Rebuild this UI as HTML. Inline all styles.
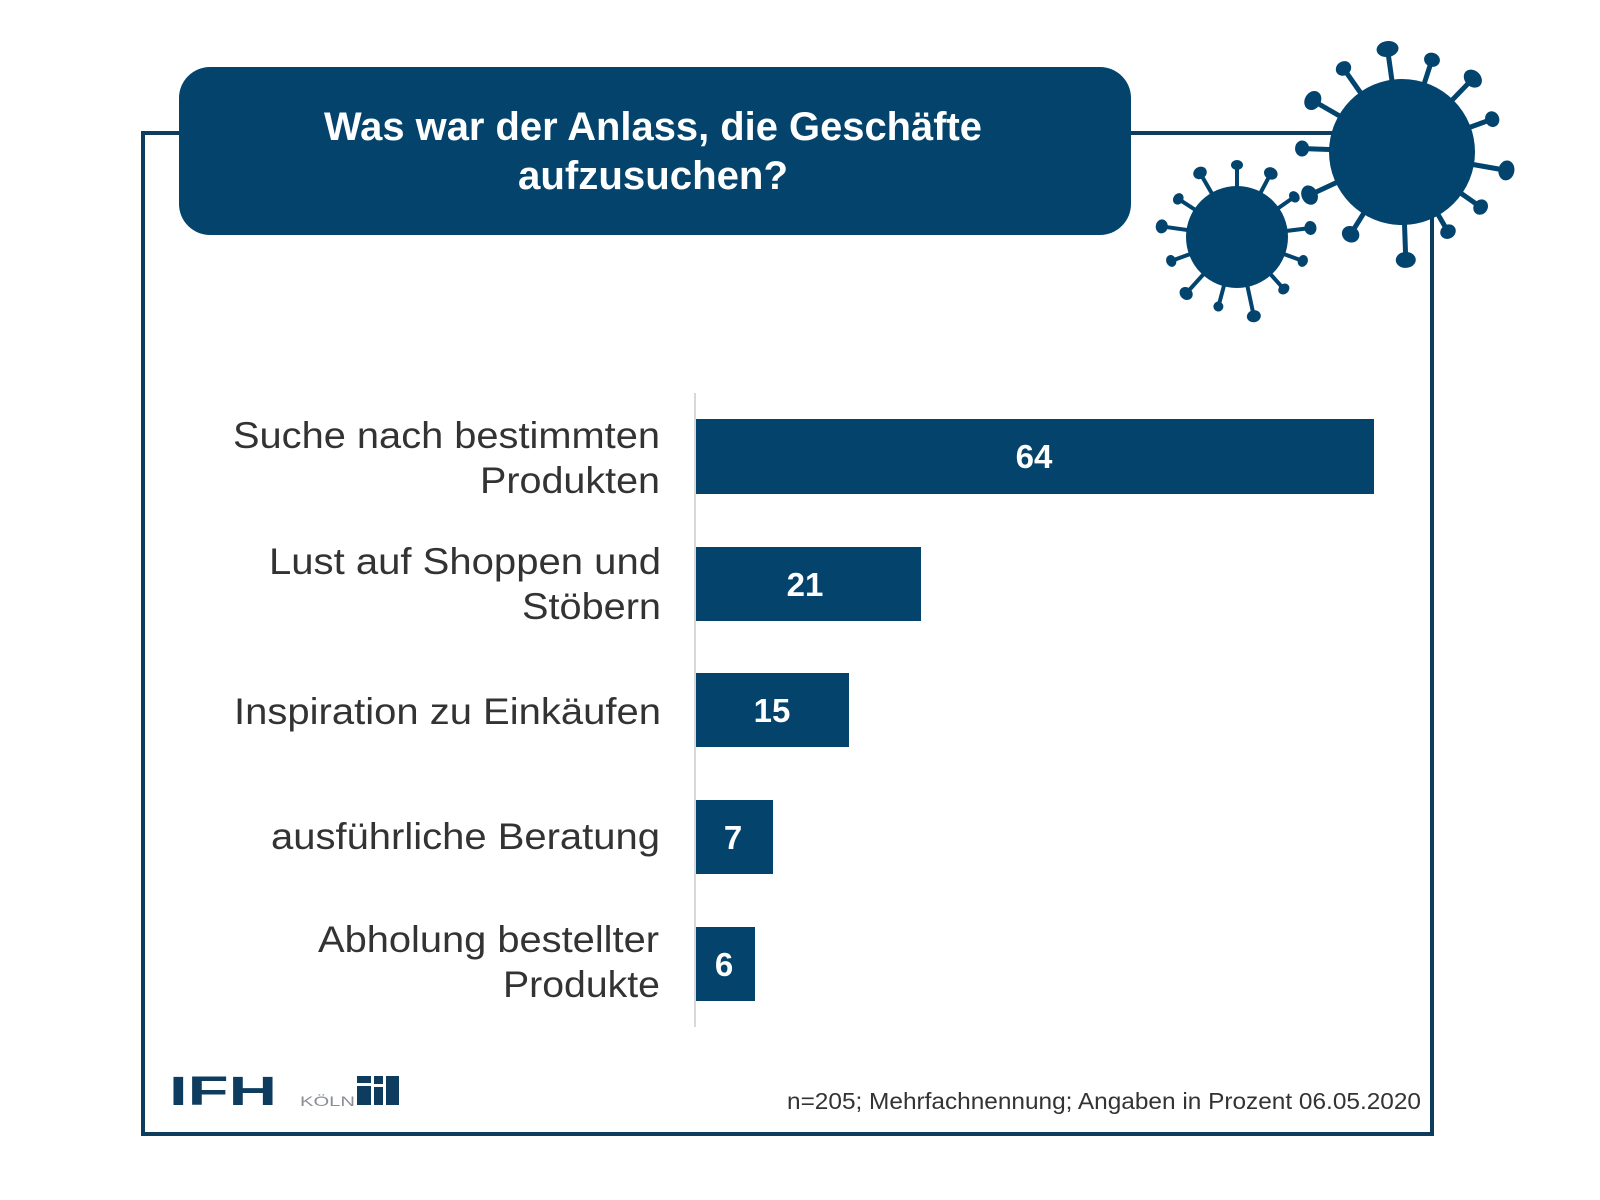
<!DOCTYPE html>
<html><head><meta charset="utf-8"><style>html,body{margin:0;padding:0;background:#fff}svg{display:block}</style></head>
<body>
<svg width="1600" height="1200" viewBox="0 0 1600 1200" xmlns="http://www.w3.org/2000/svg">
<rect width="1600" height="1200" fill="#fff"/>
<!-- frame -->
<rect x="143" y="133" width="1289" height="1001" fill="none" stroke="#0d3c5e" stroke-width="4"/>
<!-- viruses -->
<g fill="#03446e" stroke="#03446e">
 <g transform="translate(1402,152)">
  <circle r="73" stroke="none"/>
  <g stroke-width="5">
   <g transform="rotate(-8)"><line y2="-100"/><ellipse cy="-104" rx="11" ry="8" stroke="none"/></g>
   <g transform="rotate(18)"><line y2="-95"/><ellipse cy="-97" rx="8" ry="7" stroke="none"/></g>
   <g transform="rotate(44)"><line y2="-100"/><ellipse cy="-102" rx="10" ry="8" stroke="none"/></g>
   <g transform="rotate(70)"><line y2="-95"/><ellipse cy="-96" rx="8" ry="7" stroke="none"/></g>
   <g transform="rotate(100)"><line y2="-103"/><ellipse cy="-106" rx="10" ry="8" stroke="none"/></g>
   <g transform="rotate(125)"><line y2="-93"/><ellipse cy="-96" rx="8" ry="7" stroke="none"/></g>
   <g transform="rotate(150)"><line y2="-90"/><ellipse cy="-92" rx="8" ry="7" stroke="none"/></g>
   <g transform="rotate(178)"><line y2="-105"/><ellipse cy="-108" rx="10" ry="8" stroke="none"/></g>
   <g transform="rotate(212)"><line y2="-95"/><ellipse cy="-97" rx="9" ry="8" stroke="none"/></g>
   <g transform="rotate(245)"><line y2="-100"/><ellipse cy="-102" rx="10" ry="8" stroke="none"/></g>
   <g transform="rotate(272)"><line y2="-98"/><ellipse cy="-100" rx="8" ry="7" stroke="none"/></g>
   <g transform="rotate(300)"><line y2="-100"/><ellipse cy="-103" rx="10" ry="8" stroke="none"/></g>
   <g transform="rotate(325)"><line y2="-100"/><ellipse cy="-102" rx="8" ry="7" stroke="none"/></g>
  </g>
 </g>
 <g transform="translate(1237,237)">
  <circle r="51" stroke="none"/>
  <g stroke-width="4">
   <g transform="rotate(0)"><line y2="-70"/><ellipse cy="-72" rx="6" ry="5" stroke="none"/></g>
   <g transform="rotate(28)"><line y2="-70"/><ellipse cy="-72" rx="7" ry="6" stroke="none"/></g>
   <g transform="rotate(55)"><line y2="-68"/><ellipse cy="-70" rx="6" ry="5" stroke="none"/></g>
   <g transform="rotate(83)"><line y2="-72"/><ellipse cy="-74" rx="7" ry="6" stroke="none"/></g>
   <g transform="rotate(110)"><line y2="-68"/><ellipse cy="-70" rx="6" ry="5" stroke="none"/></g>
   <g transform="rotate(138)"><line y2="-68"/><ellipse cy="-70" rx="6" ry="5" stroke="none"/></g>
   <g transform="rotate(168)"><line y2="-78"/><ellipse cy="-81" rx="7" ry="6" stroke="none"/></g>
   <g transform="rotate(195)"><line y2="-70"/><ellipse cy="-72" rx="5" ry="5" stroke="none"/></g>
   <g transform="rotate(222)"><line y2="-74"/><ellipse cy="-76" rx="7" ry="6" stroke="none"/></g>
   <g transform="rotate(250)"><line y2="-68"/><ellipse cy="-70" rx="6" ry="5" stroke="none"/></g>
   <g transform="rotate(278)"><line y2="-74"/><ellipse cy="-76" rx="7" ry="6" stroke="none"/></g>
   <g transform="rotate(303)"><line y2="-68"/><ellipse cy="-70" rx="6" ry="5" stroke="none"/></g>
   <g transform="rotate(330)"><line y2="-72"/><ellipse cy="-74" rx="7" ry="6" stroke="none"/></g>
  </g>
 </g>
</g>
<!-- header -->
<rect x="179" y="67" width="952" height="168" rx="31" fill="#03436c"/>
<g font-family="Liberation Sans, Arial, sans-serif" font-weight="bold" fill="#fff" text-anchor="middle" font-size="40">
 <text x="653" y="140" textLength="658" lengthAdjust="spacingAndGlyphs">Was war der Anlass, die Geschäfte</text>
 <text x="653" y="189" textLength="270" lengthAdjust="spacingAndGlyphs">aufzusuchen?</text>
</g>
<!-- axis -->
<line x1="695" y1="393" x2="695" y2="1027" stroke="#d8d8d8" stroke-width="2"/>
<!-- bars -->
<g fill="#03436c">
 <rect x="696" y="419" width="678" height="75"/>
 <rect x="696" y="547" width="225" height="74"/>
 <rect x="696" y="673" width="153" height="74"/>
 <rect x="696" y="800" width="77" height="74"/>
 <rect x="696" y="927" width="59" height="74"/>
</g>
<g font-family="Liberation Sans, Arial, sans-serif" font-weight="bold" fill="#fff" text-anchor="middle" font-size="33">
 <text x="1034" y="468">64</text>
 <text x="805" y="596">21</text>
 <text x="772" y="722">15</text>
 <text x="733" y="849">7</text>
 <text x="724" y="976">6</text>
</g>
<g font-family="Liberation Sans, Arial, sans-serif" fill="#333" text-anchor="end" font-size="37">
 <text x="660" y="448" textLength="427" lengthAdjust="spacingAndGlyphs">Suche nach bestimmten</text>
 <text x="660" y="493" textLength="180" lengthAdjust="spacingAndGlyphs">Produkten</text>
 <text x="661" y="574" textLength="392" lengthAdjust="spacingAndGlyphs">Lust auf Shoppen und</text>
 <text x="661" y="619" textLength="139" lengthAdjust="spacingAndGlyphs">Stöbern</text>
 <text x="661" y="724" textLength="427" lengthAdjust="spacingAndGlyphs">Inspiration zu Einkäufen</text>
 <text x="660" y="849" textLength="389" lengthAdjust="spacingAndGlyphs">ausführliche Beratung</text>
 <text x="659" y="952" textLength="341" lengthAdjust="spacingAndGlyphs">Abholung bestellter</text>
 <text x="660" y="997" textLength="157" lengthAdjust="spacingAndGlyphs">Produkte</text>
</g>
<!-- footer -->
<text x="169" y="1105" font-family="Liberation Sans, Arial, sans-serif" font-weight="bold" font-size="41" fill="#0d3c5e" textLength="108" lengthAdjust="spacingAndGlyphs">IFH</text>
<text x="300" y="1106" font-family="Liberation Sans, Arial, sans-serif" font-size="14" fill="#8a8f96" textLength="55" lengthAdjust="spacingAndGlyphs">KÖLN</text>
<g fill="#0d3c5e">
 <rect x="357" y="1086" width="14" height="19"/>
 <rect x="357" y="1076" width="14" height="7"/>
 <rect x="374" y="1076" width="9" height="8"/>
 <rect x="374" y="1087" width="9" height="18"/>
 <rect x="386" y="1076" width="13" height="29"/>
</g>
<text x="1421" y="1109" text-anchor="end" font-family="Liberation Sans, Arial, sans-serif" font-size="23" fill="#333" textLength="634" lengthAdjust="spacingAndGlyphs">n=205; Mehrfachnennung; Angaben in Prozent 06.05.2020</text>
</svg>
</body></html>
